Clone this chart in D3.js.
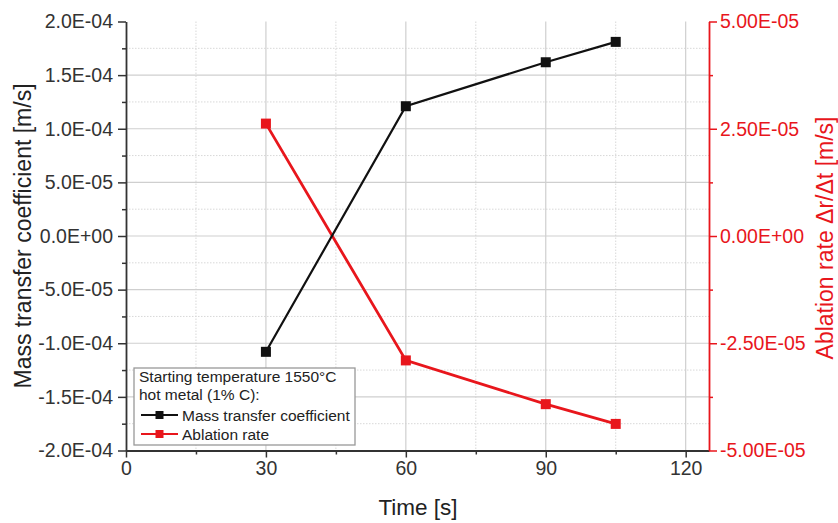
<!DOCTYPE html>
<html>
<head>
<meta charset="utf-8">
<script src="https://cdn.jsdelivr.net/npm/d3@7"></script>
<style>
  body { margin: 0; background: #fff; }
  text { font-family: "Liberation Sans", Arial, sans-serif; }
</style>
</head>
<body>
<div id="chart"></div>
<script>
const time = [30, 60, 90, 105]
const massTransfer = [-1.08e-4, 1.21e-4, 1.62e-4, 1.81e-4]
const ablation = [2.62e-5, -2.9e-5, -3.92e-5, -4.38e-5]

const xTicks = [0, 30, 60, 90, 120]
const xMinor = [15, 45, 75, 105]
const leftTicks = d3.range(-2e-4, 2.0001e-4, 5e-5)
const leftMinor = d3.range(-1.75e-4, 1.8e-4, 5e-5)
const rightTicks = [-5e-5, -2.5e-5, 0, 2.5e-5, 5e-5]
const rightMinor = [-3.75e-5, -1.25e-5, 1.25e-5, 3.75e-5]

const legendTitle = ["Starting temperature 1550°C", "hot metal (1% C):"]
const seriesNames = ["Mass transfer coefficient", "Ablation rate"]

const RED = "#e8161c"
const width = 838, height = 523
const margin = { top: 21.5, right: 129, bottom: 72.5, left: 126 }

// scientific format like 2.0E-04
function sci(v, digits) {
    if (Math.abs(v) < 1e-12) v = 0
    const s = v.toExponential(digits).toUpperCase()
    const [m, e] = s.split("E")
    const sign = e[0] === "-" ? "-" : "+"
    const num = e.replace(/[+-]/, "")
    return m + "E" + sign + (num.length < 2 ? "0" + num : num)
}

const svg = d3.select("#chart").append("svg")
    .attr("width", width)
    .attr("height", height)

const iw = width - margin.left - margin.right
const ih = height - margin.top - margin.bottom

const g = svg.append("g")
    .attr("transform", "translate(" + margin.left + "," + margin.top + ")")

const x = d3.scaleLinear().domain([0, 125]).range([0, iw])
const yL = d3.scaleLinear().domain([-2e-4, 2e-4]).range([ih, 0])
const yR = d3.scaleLinear().domain([-5e-5, 5e-5]).range([ih, 0])

// grid
const grid = g.append("g")
grid.selectAll(".vmin").data(xMinor).enter().append("line")
    .attr("x1", d => x(d)).attr("x2", d => x(d))
    .attr("y1", 0).attr("y2", ih)
    .attr("stroke", "#d8d8d8").attr("stroke-dasharray", "1.5,1.5")
grid.selectAll(".hmin").data(leftMinor).enter().append("line")
    .attr("x1", 0).attr("x2", iw)
    .attr("y1", d => yL(d)).attr("y2", d => yL(d))
    .attr("stroke", "#d8d8d8").attr("stroke-dasharray", "1.5,1.5")
grid.selectAll(".vmaj").data(xTicks.slice(1)).enter().append("line")
    .attr("x1", d => x(d)).attr("x2", d => x(d))
    .attr("y1", 0).attr("y2", ih)
    .attr("stroke", "#cfcfcf").attr("stroke-width", 1.2)
grid.selectAll(".hmaj").data(leftTicks.slice(1, -1)).enter().append("line")
    .attr("x1", 0).attr("x2", iw)
    .attr("y1", d => yL(d)).attr("y2", d => yL(d))
    .attr("stroke", "#cfcfcf").attr("stroke-width", 1.2)

// axes
function styleAxis(sel, color) {
    sel.selectAll("path").attr("stroke", color).attr("stroke-width", 1.8)
    sel.selectAll("line").attr("stroke", color).attr("stroke-width", 1.5)
    sel.selectAll("text").attr("fill", color).style("font-size", "19.5px")
        .style("font-family", "'Liberation Sans', Arial, sans-serif")
}

const xAxisMinor = g.append("g").attr("transform", "translate(0," + ih + ")")
    .call(d3.axisBottom(x).tickValues(xMinor).tickSize(4).tickFormat(""))
styleAxis(xAxisMinor, "#333")
xAxisMinor.select("path").remove()

const xAxis = g.append("g").attr("transform", "translate(0," + ih + ")")
    .call(d3.axisBottom(x).tickValues(xTicks).tickSizeInner(7).tickSizeOuter(0).tickPadding(4))
styleAxis(xAxis, "#333")

const lMinor = g.append("g")
    .call(d3.axisLeft(yL).tickValues(leftMinor).tickSize(4).tickFormat(""))
styleAxis(lMinor, "#333")
lMinor.select("path").remove()

const lAxis = g.append("g")
    .call(d3.axisLeft(yL).tickValues(leftTicks).tickSizeInner(8).tickSizeOuter(0).tickPadding(5)
        .tickFormat(d => sci(d, 1)))
styleAxis(lAxis, "#333")

const rMinor = g.append("g").attr("transform", "translate(" + iw + ",0)")
    .call(d3.axisRight(yR).tickValues(rightMinor).tickSize(4).tickFormat(""))
styleAxis(rMinor, RED)
rMinor.select("path").remove()

const rAxis = g.append("g").attr("transform", "translate(" + iw + ",0)")
    .call(d3.axisRight(yR).tickValues(rightTicks).tickSizeInner(8).tickSizeOuter(0).tickPadding(3)
        .tickFormat(d => sci(d, 2)))
styleAxis(rAxis, RED)

// axis titles
svg.append("text")
    .attr("x", 418).attr("y", 515)
    .attr("text-anchor", "middle").style("font-size", "22.5px").attr("fill", "#222")
    .text("Time [s]")
svg.append("text")
    .attr("transform", "translate(31," + (margin.top + ih / 2) + ") rotate(-90)")
    .attr("text-anchor", "middle").style("font-size", "23px").attr("fill", "#222")
    .text("Mass transfer coefficient [m/s]")
svg.append("text")
    .attr("transform", "translate(833," + (margin.top + ih / 2 + 2) + ") rotate(-90)")
    .attr("text-anchor", "middle").style("font-size", "23px").attr("fill", RED)
    .text("Ablation rate Δr/Δt [m/s]")

// series
const ptsL = time.map((t, i) => [t, massTransfer[i]])
const ptsR = time.map((t, i) => [t, ablation[i]])

g.append("path").datum(ptsR)
    .attr("fill", "none").attr("stroke", RED).attr("stroke-width", 2.8)
    .attr("d", d3.line().x(d => x(d[0])).y(d => yR(d[1])))
g.append("path").datum(ptsL)
    .attr("fill", "none").attr("stroke", "#111").attr("stroke-width", 2.2)
    .attr("d", d3.line().x(d => x(d[0])).y(d => yL(d[1])))

const sq = 10
g.selectAll(".mr").data(ptsR).enter().append("rect")
    .attr("x", d => x(d[0]) - sq / 2).attr("y", d => yR(d[1]) - sq / 2)
    .attr("width", sq).attr("height", sq).attr("fill", RED)
g.selectAll(".ml").data(ptsL).enter().append("rect")
    .attr("x", d => x(d[0]) - sq / 2).attr("y", d => yL(d[1]) - sq / 2)
    .attr("width", sq).attr("height", sq).attr("fill", "#111")

// legend
const lg = svg.append("g").attr("transform", "translate(134,368)")
lg.append("rect").attr("width", 221).attr("height", 77)
    .attr("fill", "#fff").attr("stroke", "#999").attr("stroke-width", 1.3)
lg.selectAll(".lt").data(legendTitle).enter().append("text")
    .attr("x", 5).attr("y", (d, i) => 14 + i * 18)
    .style("font-size", "15.5px").attr("fill", "#222")
    .text(d => d)
const colors = ["#111", RED]
const items = lg.selectAll(".li").data(seriesNames).enter().append("g")
    .attr("transform", (d, i) => "translate(0," + (47 + i * 19) + ")")
items.append("line").attr("x1", 7).attr("x2", 44).attr("y1", 0).attr("y2", 0)
    .attr("stroke", (d, i) => colors[i]).attr("stroke-width", 2.2)
items.append("rect").attr("x", 21.5).attr("y", -4).attr("width", 8).attr("height", 8)
    .attr("fill", (d, i) => colors[i])
items.append("text").attr("x", 48).attr("y", 5.5)
    .style("font-size", "15.5px").attr("fill", "#222")
    .text(d => d)
</script>
</body>
</html>
